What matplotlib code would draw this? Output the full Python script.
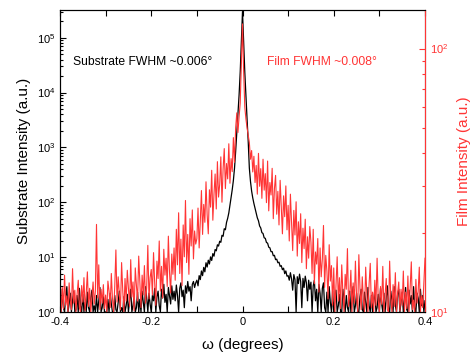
import numpy as np
import matplotlib
matplotlib.use("Agg")
import matplotlib.pyplot as plt
from matplotlib.ticker import LogLocator, MultipleLocator, NullFormatter

plt.rcParams['font.family'] = ['Liberation Sans', 'DejaVu Sans']
plt.rcParams['mathtext.fontset'] = 'custom'
plt.rcParams['mathtext.rm'] = 'Liberation Sans'
plt.rcParams['mathtext.default'] = 'regular'

# rocking curve sampling grid (degrees), 0.0025 deg step
omega = np.linspace(-0.4, 0.4, 321)

# substrate counts (left axis), 20 points per row = 0.05 deg
substrate = [
    1.8, 1.0, 2.6, 1.2, 1.0, 1.9, 2.9, 1.0, 1.4, 2.2, 1.0, 1.6, 2.4, 1.0, 1.1, 2.0, 1.0, 2.7, 1.3, 1.0,
    2.1, 1.0, 1.5, 1.0, 2.3, 1.2, 1.0, 1.8, 2.5, 1.0, 1.3, 1.0, 2.0, 1.0, 1.6, 2.8, 1.0, 1.2, 1.9, 1.0,
    1.0, 1.0, 1.7, 1.0, 2.2, 1.4, 1.0, 1.0, 2.0, 1.1, 1.0, 1.5, 2.4, 1.0, 1.2, 1.0, 1.9, 1.0, 1.3, 2.1,
    1.0, 1.6, 2.6, 1.0, 1.3, 2.0, 1.0, 1.2, 2.3, 1.0, 1.7, 1.0, 2.4, 1.5, 1.0, 2.9, 1.8, 1.0, 2.2, 1.4,
    1.0, 2.0, 1.6, 2.7, 1.0, 1.9, 2.4, 1.3, 1.0, 2.6, 1.8, 3.2, 1.5, 2.1, 1.0, 2.8, 2.0, 1.4, 3.0, 1.7,
    2.4, 1.6, 3.1, 2.0, 1.0, 2.7, 3.4, 1.9, 2.5, 1.2, 3.0, 2.2, 3.6, 2.4, 2.9, 1.6, 3.2, 3.6, 2.8, 3.4,
    3.8, 3.0, 4.6, 3.9, 5.6, 4.6, 6.5, 5.4, 7.9, 6.6, 8.8, 7.5, 10.1, 8.7, 11.6, 10.4, 13.8, 13.0, 16.8, 15.9,
    19.5, 18.6, 25.0, 24.0, 33.0, 31.5, 43.0, 51.0, 64.0, 88.0, 120.0, 170.0, 250.0, 420.0, 850.0, 1900.0, 4000.0, 9000.0, 24000.0, 85000.0,
    300000.0, 85000.0, 24000.0, 8500.0, 3300.0, 1300.0, 420.0, 240.0, 160.0, 120.0, 95.0, 78.0, 64.0, 52.0, 46.0, 37.0, 34.0, 28.0, 27.0, 22.5,
    22.0, 18.5, 18.0, 15.2, 14.8, 12.6, 12.6, 10.6, 10.8, 9.0, 9.2, 7.9, 8.1, 6.8, 7.0, 5.9, 6.3, 5.0, 5.6, 4.5,
    4.6, 3.8, 5.2, 4.0, 2.5, 4.8, 3.9, 1.0, 4.4, 3.3, 4.9, 3.6, 1.2, 4.1, 2.8, 4.5, 3.4, 1.6, 3.8, 2.6,
    3.5, 1.0, 3.0, 3.8, 1.6, 2.6, 1.0, 3.2, 2.2, 1.0, 2.7, 3.4, 1.2, 1.0, 2.3, 1.0, 2.9, 1.5, 1.0, 2.4,
    1.0, 1.8, 2.5, 1.0, 1.3, 2.1, 1.0, 1.0, 2.6, 1.5, 1.0, 2.0, 1.2, 1.0, 2.4, 1.0, 1.7, 2.9, 1.0, 1.3,
    2.2, 1.0, 1.0, 1.9, 2.6, 1.1, 1.0, 2.3, 1.5, 1.0, 2.8, 1.3, 1.0, 2.0, 1.0, 1.6, 2.5, 1.0, 1.2, 2.1,
    1.0, 2.7, 1.4, 1.0, 2.2, 1.0, 1.8, 3.0, 1.2, 1.0, 2.4, 1.6, 1.0, 2.9, 1.3, 1.0, 2.1, 2.6, 1.0, 1.5,
    2.3, 1.0, 1.7, 2.8, 1.1, 1.0, 2.5, 1.4, 2.0, 1.0, 2.9, 1.2, 1.0, 2.2, 1.8, 1.0, 2.6, 1.3, 2.0, 1.0,
    1.6,
]

# film counts (right axis)
film = [
    11.2, 10.0, 12.4, 10.3, 13.8, 10.6, 11.5, 10.0, 12.9, 11.0, 10.2, 14.6, 10.8, 12.1, 10.0, 11.7, 13.2, 10.4, 10.0, 12.6,
    10.9, 13.5, 10.1, 11.8, 14.2, 10.5, 12.3, 10.0, 11.4, 13.0, 10.7, 12.0, 21.5, 11.3, 15.1, 10.2, 12.2, 10.8, 12.7, 10.3,
    11.6, 10.0, 13.1, 12.0, 10.4, 14.0, 11.2, 10.0, 12.5, 17.2, 10.9, 13.6, 11.8, 10.2, 15.4, 12.1, 10.0, 13.4, 11.0, 14.4,
    12.2, 10.5, 15.8, 11.4, 13.0, 10.1, 14.7, 12.6, 11.0, 16.3, 12.9, 10.4, 13.8, 11.6, 15.0, 10.8, 12.4, 17.9, 11.2, 13.5,
    14.5, 11.6, 16.8, 12.9, 10.6, 15.6, 13.4, 18.6, 12.0, 14.9, 11.3, 17.3, 13.8, 16.0, 12.5, 19.4, 14.2, 11.8, 16.6, 13.9,
    17.5, 13.2, 20.6, 15.1, 23.8, 14.0, 18.9, 12.6, 21.4, 16.2, 26.5, 15.4, 19.7, 13.9, 22.6, 17.8, 24.4, 15.9, 20.3, 18.1,
    19.0, 24.8, 17.5, 22.1, 28.9, 19.7, 25.6, 21.9, 31.2, 23.4, 19.8, 29.1, 25.0, 34.5, 22.3, 28.0, 33.4, 24.6, 37.2, 27.3,
    30.5, 38.8, 26.1, 35.0, 41.7, 29.4, 36.6, 32.0, 43.5, 30.8, 38.2, 34.1, 45.9, 37.0, 50.0, 57.0, 48.0, 55.0, 62.0, 88.0,
    124.0, 82.0, 60.0, 54.0, 50.0, 47.0, 44.0, 38.0, 41.0, 34.0, 39.0, 31.0, 36.0, 28.0, 40.0, 30.0, 35.0, 27.0, 38.0, 29.0,
    33.5, 26.0, 37.4, 24.2, 31.0, 27.8, 35.1, 22.6, 29.4, 33.0, 23.5, 28.7, 21.4, 31.6, 25.2, 19.8, 27.6, 23.0, 30.1, 20.5,
    25.4, 18.6, 28.0, 21.7, 17.1, 24.3, 19.6, 26.2, 16.3, 22.0, 18.2, 23.6, 15.4, 20.8, 17.4, 22.5, 14.6, 19.3, 16.0, 21.1,
    18.4, 14.0, 20.6, 12.8, 16.9, 15.2, 19.0, 11.9, 17.5, 13.6, 15.9, 21.3, 12.4, 16.4, 14.3, 11.2, 18.0, 13.1, 15.0, 10.6,
    14.7, 10.0, 12.6, 16.2, 11.0, 13.5, 10.3, 15.1, 11.8, 10.0, 13.9, 12.2, 17.4, 10.5, 11.6, 14.4, 10.0, 12.9, 10.8, 15.6,
    11.4, 10.0, 16.5, 12.3, 10.2, 13.6, 11.0, 10.0, 14.8, 11.7, 10.0, 12.8, 15.3, 10.4, 11.9, 10.0, 13.2, 10.6, 16.0, 11.1,
    10.0, 12.5, 10.7, 14.9, 10.0, 11.6, 13.4, 10.2, 10.0, 15.6, 11.3, 10.0, 12.7, 10.5, 14.1, 10.0, 11.8, 13.0, 10.1, 12.2,
    10.6, 14.3, 10.0, 11.9, 10.3, 13.7, 10.0, 12.4, 15.5, 10.2, 11.1, 10.0, 13.3, 10.8, 12.0, 14.8, 10.0, 11.5, 10.4, 12.8,
    16.0,
]

red = '#ff3535'

fig = plt.figure(figsize=(4.71, 3.64), dpi=100)
ax = fig.add_axes([60/471, 52/364, 365/471, 302/364])
ax2 = ax.twinx()

ax.plot(omega, substrate, color='black', lw=0.9)
ax2.plot(omega, film, color=red, lw=0.8)

ax.set_xlim(-0.4, 0.4)
ax.set_yscale('log')
ax.set_ylim(1, 3.2e5)
ax2.set_yscale('log')
ax2.set_ylim(10, 140)

ax.set_xticks([-0.4, -0.2, 0, 0.2, 0.4])
ax.set_xticklabels(['-0.4', '-0.2', '0', '0.2', '0.4'])
ax.xaxis.set_minor_locator(MultipleLocator(0.1))
ax.yaxis.set_major_locator(LogLocator(base=10, numticks=10))
ax.yaxis.set_minor_locator(LogLocator(base=10, subs=np.arange(2, 10), numticks=20))
ax.yaxis.set_minor_formatter(NullFormatter())
ax2.yaxis.set_minor_formatter(NullFormatter())

ax.tick_params(which='both', direction='in', top=True, labelsize=8, length=4, width=0.8)
ax.tick_params(which='minor', length=2.5)
ax.tick_params(axis='x', which='minor', length=4)
ax2.tick_params(which='both', direction='in', labelsize=8, colors=red, width=0.8)
ax2.tick_params(which='major', length=4)
ax2.tick_params(which='minor', length=2.5)
ax2.spines['right'].set_color(red)

ax.set_xlabel(u'\u03c9 (degrees)', fontsize=11, labelpad=8)
ax.set_ylabel('Substrate Intensity (a.u.)', fontsize=11, labelpad=4)
ax2.set_ylabel('Film Intensity (a.u.)', fontsize=11, color=red, labelpad=6)

ax.text(73, 302, u'Substrate FWHM ~0.006\u00b0', fontsize=8.7, color='black',
        transform=None, va='center')
ax2.text(267, 302, u'Film FWHM ~0.008\u00b0', fontsize=8.7, color=red,
         transform=None, va='center')

fig.savefig('out.png', dpi=100)
